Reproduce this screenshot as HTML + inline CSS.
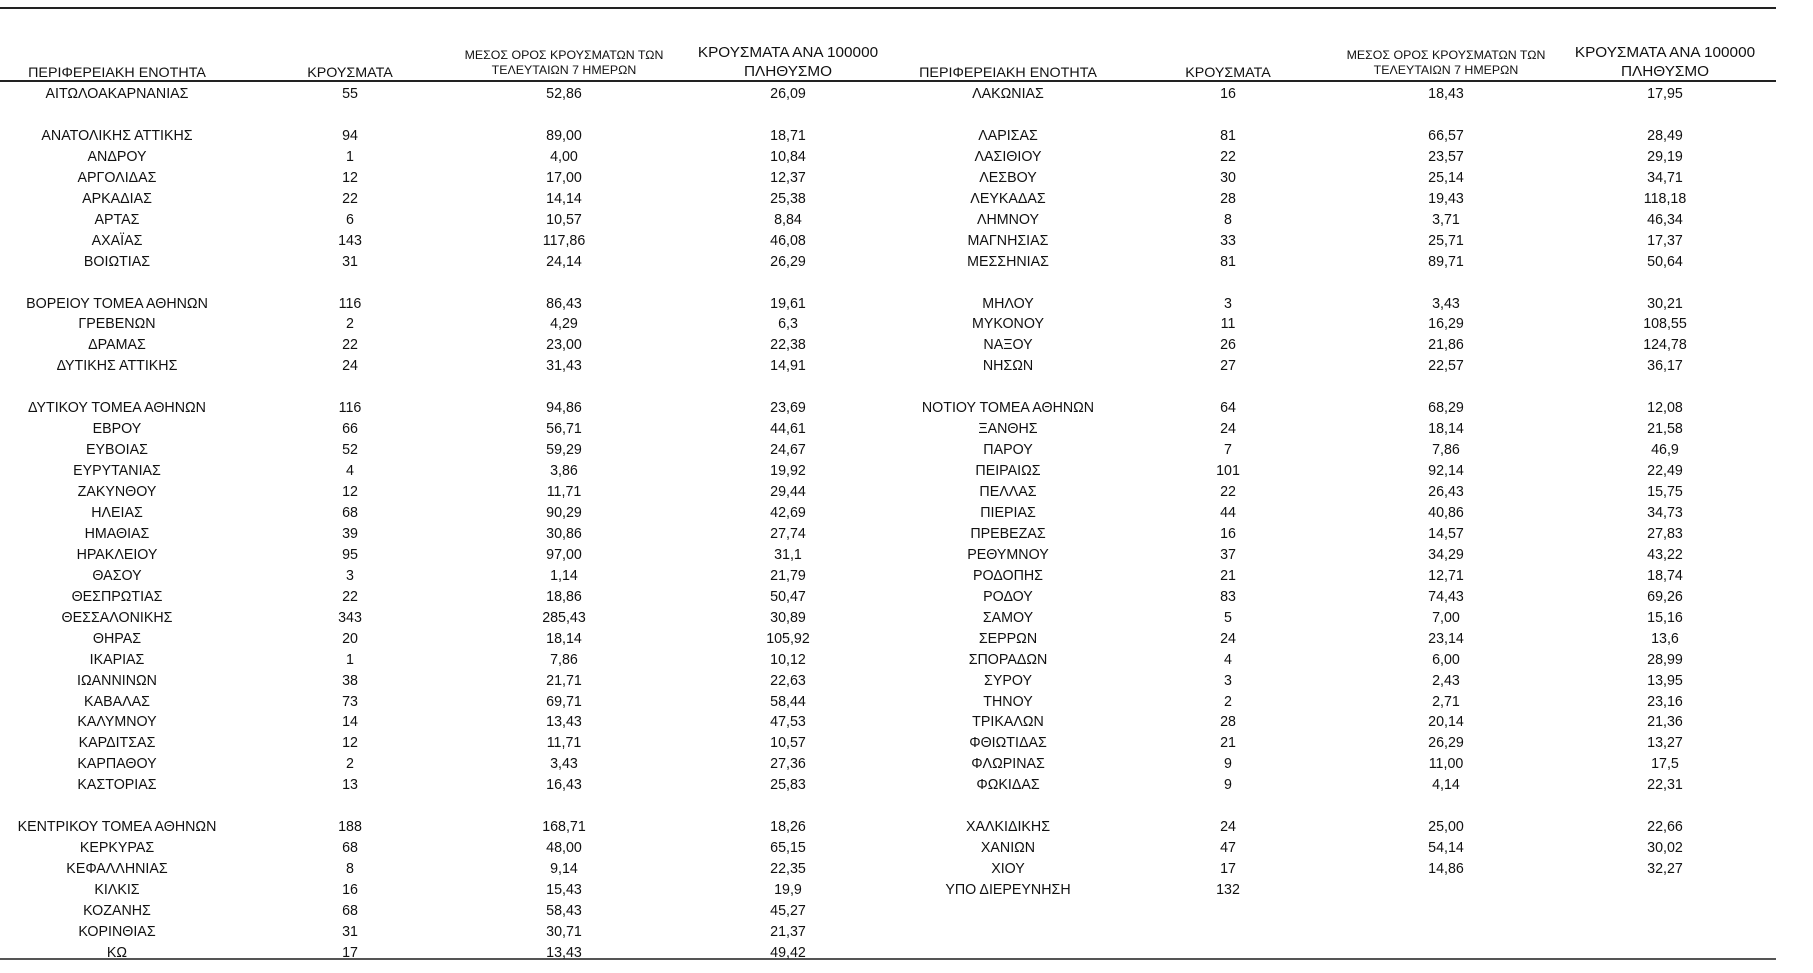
<!DOCTYPE html>
<html><head><meta charset="utf-8"><style>
body{margin:0;width:1813px;height:973px;background:#fff;position:relative;overflow:hidden;font-family:"Liberation Sans","DejaVu Sans",sans-serif;color:#111}
.r{position:absolute;left:0;width:1813px;height:20px;line-height:20px;font-size:15px}
.r span,.h span{position:absolute;width:360px;margin-left:-180px;text-align:center;transform:scaleX(0.95);white-space:nowrap}
.h span{transform:scaleX(1.02)}
.a{left:117px}.b{left:350px}.c{left:564px}.d{left:788px}
.e{left:1008px}.f{left:1228px}.g{left:1446px}.k{left:1665px}
.ln{position:absolute;left:0;width:1776px;background:#222}
.h{position:absolute;left:0;width:1813px}
</style></head><body>
<div class="ln" style="top:7px;height:2px"></div>
<div class="ln" style="top:80px;height:2px"></div>
<div class="ln" style="top:958px;height:2px;background:#555"></div>
<div class="h" style="top:64px;font-size:14px;line-height:16px"><span class="a">ΠΕΡΙΦΕΡΕΙΑΚΗ ΕΝΟΤΗΤΑ</span><span class="b">ΚΡΟΥΣΜΑΤΑ</span><span class="e">ΠΕΡΙΦΕΡΕΙΑΚΗ ΕΝΟΤΗΤΑ</span><span class="f">ΚΡΟΥΣΜΑΤΑ</span></div>
<div class="h" style="top:48px;font-size:12px;line-height:15px"><span class="c" style="transform:scaleX(1.03)">ΜΕΣΟΣ ΟΡΟΣ ΚΡΟΥΣΜΑΤΩΝ ΤΩΝ<br>ΤΕΛΕΥΤΑΙΩΝ 7 ΗΜΕΡΩΝ</span><span class="g" style="transform:scaleX(1.03)">ΜΕΣΟΣ ΟΡΟΣ ΚΡΟΥΣΜΑΤΩΝ ΤΩΝ<br>ΤΕΛΕΥΤΑΙΩΝ 7 ΗΜΕΡΩΝ</span></div>
<div class="h" style="top:43px;font-size:15px;line-height:19px"><span class="d">ΚΡΟΥΣΜΑΤΑ ΑΝΑ 100000<br>ΠΛΗΘΥΣΜΟ</span><span class="k">ΚΡΟΥΣΜΑΤΑ ΑΝΑ 100000<br>ΠΛΗΘΥΣΜΟ</span></div>

<div class="r" style="top:84px"><span class="a">ΑΙΤΩΛΟΑΚΑΡΝΑΝΙΑΣ</span><span class="b">55</span><span class="c">52,86</span><span class="d">26,09</span><span class="e">ΛΑΚΩΝΙΑΣ</span><span class="f">16</span><span class="g">18,43</span><span class="k">17,95</span></div>
<div class="r" style="top:126px"><span class="a">ΑΝΑΤΟΛΙΚΗΣ ΑΤΤΙΚΗΣ</span><span class="b">94</span><span class="c">89,00</span><span class="d">18,71</span><span class="e">ΛΑΡΙΣΑΣ</span><span class="f">81</span><span class="g">66,57</span><span class="k">28,49</span></div>
<div class="r" style="top:147px"><span class="a">ΑΝΔΡΟΥ</span><span class="b">1</span><span class="c">4,00</span><span class="d">10,84</span><span class="e">ΛΑΣΙΘΙΟΥ</span><span class="f">22</span><span class="g">23,57</span><span class="k">29,19</span></div>
<div class="r" style="top:168px"><span class="a">ΑΡΓΟΛΙΔΑΣ</span><span class="b">12</span><span class="c">17,00</span><span class="d">12,37</span><span class="e">ΛΕΣΒΟΥ</span><span class="f">30</span><span class="g">25,14</span><span class="k">34,71</span></div>
<div class="r" style="top:189px"><span class="a">ΑΡΚΑΔΙΑΣ</span><span class="b">22</span><span class="c">14,14</span><span class="d">25,38</span><span class="e">ΛΕΥΚΑΔΑΣ</span><span class="f">28</span><span class="g">19,43</span><span class="k">118,18</span></div>
<div class="r" style="top:210px"><span class="a">ΑΡΤΑΣ</span><span class="b">6</span><span class="c">10,57</span><span class="d">8,84</span><span class="e">ΛΗΜΝΟΥ</span><span class="f">8</span><span class="g">3,71</span><span class="k">46,34</span></div>
<div class="r" style="top:231px"><span class="a">ΑΧΑΪΑΣ</span><span class="b">143</span><span class="c">117,86</span><span class="d">46,08</span><span class="e">ΜΑΓΝΗΣΙΑΣ</span><span class="f">33</span><span class="g">25,71</span><span class="k">17,37</span></div>
<div class="r" style="top:252px"><span class="a">ΒΟΙΩΤΙΑΣ</span><span class="b">31</span><span class="c">24,14</span><span class="d">26,29</span><span class="e">ΜΕΣΣΗΝΙΑΣ</span><span class="f">81</span><span class="g">89,71</span><span class="k">50,64</span></div>
<div class="r" style="top:294px"><span class="a">ΒΟΡΕΙΟΥ ΤΟΜΕΑ ΑΘΗΝΩΝ</span><span class="b">116</span><span class="c">86,43</span><span class="d">19,61</span><span class="e">ΜΗΛΟΥ</span><span class="f">3</span><span class="g">3,43</span><span class="k">30,21</span></div>
<div class="r" style="top:314px"><span class="a">ΓΡΕΒΕΝΩΝ</span><span class="b">2</span><span class="c">4,29</span><span class="d">6,3</span><span class="e">ΜΥΚΟΝΟΥ</span><span class="f">11</span><span class="g">16,29</span><span class="k">108,55</span></div>
<div class="r" style="top:335px"><span class="a">ΔΡΑΜΑΣ</span><span class="b">22</span><span class="c">23,00</span><span class="d">22,38</span><span class="e">ΝΑΞΟΥ</span><span class="f">26</span><span class="g">21,86</span><span class="k">124,78</span></div>
<div class="r" style="top:356px"><span class="a">ΔΥΤΙΚΗΣ ΑΤΤΙΚΗΣ</span><span class="b">24</span><span class="c">31,43</span><span class="d">14,91</span><span class="e">ΝΗΣΩΝ</span><span class="f">27</span><span class="g">22,57</span><span class="k">36,17</span></div>
<div class="r" style="top:398px"><span class="a">ΔΥΤΙΚΟΥ ΤΟΜΕΑ ΑΘΗΝΩΝ</span><span class="b">116</span><span class="c">94,86</span><span class="d">23,69</span><span class="e">ΝΟΤΙΟΥ ΤΟΜΕΑ ΑΘΗΝΩΝ</span><span class="f">64</span><span class="g">68,29</span><span class="k">12,08</span></div>
<div class="r" style="top:419px"><span class="a">ΕΒΡΟΥ</span><span class="b">66</span><span class="c">56,71</span><span class="d">44,61</span><span class="e">ΞΑΝΘΗΣ</span><span class="f">24</span><span class="g">18,14</span><span class="k">21,58</span></div>
<div class="r" style="top:440px"><span class="a">ΕΥΒΟΙΑΣ</span><span class="b">52</span><span class="c">59,29</span><span class="d">24,67</span><span class="e">ΠΑΡΟΥ</span><span class="f">7</span><span class="g">7,86</span><span class="k">46,9</span></div>
<div class="r" style="top:461px"><span class="a">ΕΥΡΥΤΑΝΙΑΣ</span><span class="b">4</span><span class="c">3,86</span><span class="d">19,92</span><span class="e">ΠΕΙΡΑΙΩΣ</span><span class="f">101</span><span class="g">92,14</span><span class="k">22,49</span></div>
<div class="r" style="top:482px"><span class="a">ΖΑΚΥΝΘΟΥ</span><span class="b">12</span><span class="c">11,71</span><span class="d">29,44</span><span class="e">ΠΕΛΛΑΣ</span><span class="f">22</span><span class="g">26,43</span><span class="k">15,75</span></div>
<div class="r" style="top:503px"><span class="a">ΗΛΕΙΑΣ</span><span class="b">68</span><span class="c">90,29</span><span class="d">42,69</span><span class="e">ΠΙΕΡΙΑΣ</span><span class="f">44</span><span class="g">40,86</span><span class="k">34,73</span></div>
<div class="r" style="top:524px"><span class="a">ΗΜΑΘΙΑΣ</span><span class="b">39</span><span class="c">30,86</span><span class="d">27,74</span><span class="e">ΠΡΕΒΕΖΑΣ</span><span class="f">16</span><span class="g">14,57</span><span class="k">27,83</span></div>
<div class="r" style="top:545px"><span class="a">ΗΡΑΚΛΕΙΟΥ</span><span class="b">95</span><span class="c">97,00</span><span class="d">31,1</span><span class="e">ΡΕΘΥΜΝΟΥ</span><span class="f">37</span><span class="g">34,29</span><span class="k">43,22</span></div>
<div class="r" style="top:566px"><span class="a">ΘΑΣΟΥ</span><span class="b">3</span><span class="c">1,14</span><span class="d">21,79</span><span class="e">ΡΟΔΟΠΗΣ</span><span class="f">21</span><span class="g">12,71</span><span class="k">18,74</span></div>
<div class="r" style="top:587px"><span class="a">ΘΕΣΠΡΩΤΙΑΣ</span><span class="b">22</span><span class="c">18,86</span><span class="d">50,47</span><span class="e">ΡΟΔΟΥ</span><span class="f">83</span><span class="g">74,43</span><span class="k">69,26</span></div>
<div class="r" style="top:608px"><span class="a">ΘΕΣΣΑΛΟΝΙΚΗΣ</span><span class="b">343</span><span class="c">285,43</span><span class="d">30,89</span><span class="e">ΣΑΜΟΥ</span><span class="f">5</span><span class="g">7,00</span><span class="k">15,16</span></div>
<div class="r" style="top:629px"><span class="a">ΘΗΡΑΣ</span><span class="b">20</span><span class="c">18,14</span><span class="d">105,92</span><span class="e">ΣΕΡΡΩΝ</span><span class="f">24</span><span class="g">23,14</span><span class="k">13,6</span></div>
<div class="r" style="top:650px"><span class="a">ΙΚΑΡΙΑΣ</span><span class="b">1</span><span class="c">7,86</span><span class="d">10,12</span><span class="e">ΣΠΟΡΑΔΩΝ</span><span class="f">4</span><span class="g">6,00</span><span class="k">28,99</span></div>
<div class="r" style="top:671px"><span class="a">ΙΩΑΝΝΙΝΩΝ</span><span class="b">38</span><span class="c">21,71</span><span class="d">22,63</span><span class="e">ΣΥΡΟΥ</span><span class="f">3</span><span class="g">2,43</span><span class="k">13,95</span></div>
<div class="r" style="top:692px"><span class="a">ΚΑΒΑΛΑΣ</span><span class="b">73</span><span class="c">69,71</span><span class="d">58,44</span><span class="e">ΤΗΝΟΥ</span><span class="f">2</span><span class="g">2,71</span><span class="k">23,16</span></div>
<div class="r" style="top:712px"><span class="a">ΚΑΛΥΜΝΟΥ</span><span class="b">14</span><span class="c">13,43</span><span class="d">47,53</span><span class="e">ΤΡΙΚΑΛΩΝ</span><span class="f">28</span><span class="g">20,14</span><span class="k">21,36</span></div>
<div class="r" style="top:733px"><span class="a">ΚΑΡΔΙΤΣΑΣ</span><span class="b">12</span><span class="c">11,71</span><span class="d">10,57</span><span class="e">ΦΘΙΩΤΙΔΑΣ</span><span class="f">21</span><span class="g">26,29</span><span class="k">13,27</span></div>
<div class="r" style="top:754px"><span class="a">ΚΑΡΠΑΘΟΥ</span><span class="b">2</span><span class="c">3,43</span><span class="d">27,36</span><span class="e">ΦΛΩΡΙΝΑΣ</span><span class="f">9</span><span class="g">11,00</span><span class="k">17,5</span></div>
<div class="r" style="top:775px"><span class="a">ΚΑΣΤΟΡΙΑΣ</span><span class="b">13</span><span class="c">16,43</span><span class="d">25,83</span><span class="e">ΦΩΚΙΔΑΣ</span><span class="f">9</span><span class="g">4,14</span><span class="k">22,31</span></div>
<div class="r" style="top:817px"><span class="a">ΚΕΝΤΡΙΚΟΥ ΤΟΜΕΑ ΑΘΗΝΩΝ</span><span class="b">188</span><span class="c">168,71</span><span class="d">18,26</span><span class="e">ΧΑΛΚΙΔΙΚΗΣ</span><span class="f">24</span><span class="g">25,00</span><span class="k">22,66</span></div>
<div class="r" style="top:838px"><span class="a">ΚΕΡΚΥΡΑΣ</span><span class="b">68</span><span class="c">48,00</span><span class="d">65,15</span><span class="e">ΧΑΝΙΩΝ</span><span class="f">47</span><span class="g">54,14</span><span class="k">30,02</span></div>
<div class="r" style="top:859px"><span class="a">ΚΕΦΑΛΛΗΝΙΑΣ</span><span class="b">8</span><span class="c">9,14</span><span class="d">22,35</span><span class="e">ΧΙΟΥ</span><span class="f">17</span><span class="g">14,86</span><span class="k">32,27</span></div>
<div class="r" style="top:880px"><span class="a">ΚΙΛΚΙΣ</span><span class="b">16</span><span class="c">15,43</span><span class="d">19,9</span><span class="e">ΥΠΟ ΔΙΕΡΕΥΝΗΣΗ</span><span class="f">132</span></div>
<div class="r" style="top:901px"><span class="a">ΚΟΖΑΝΗΣ</span><span class="b">68</span><span class="c">58,43</span><span class="d">45,27</span></div>
<div class="r" style="top:922px"><span class="a">ΚΟΡΙΝΘΙΑΣ</span><span class="b">31</span><span class="c">30,71</span><span class="d">21,37</span></div>
<div class="r" style="top:943px"><span class="a">ΚΩ</span><span class="b">17</span><span class="c">13,43</span><span class="d">49,42</span></div>
</body></html>
